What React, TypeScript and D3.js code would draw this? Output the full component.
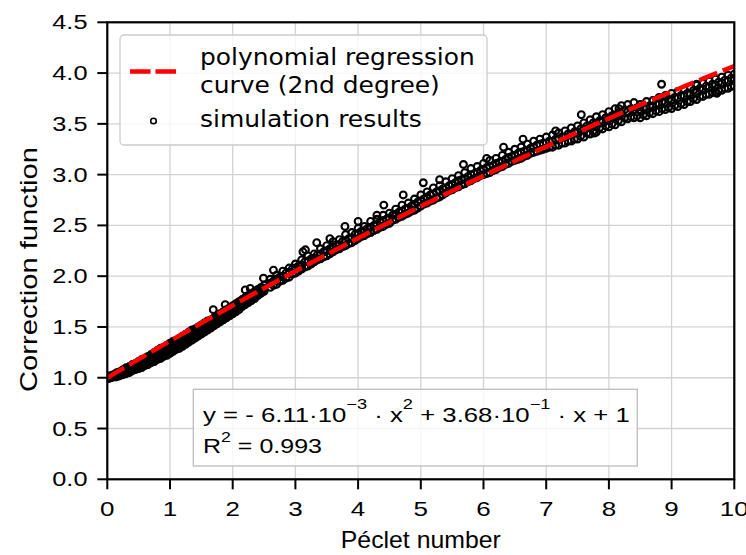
import React, { useEffect, useRef } from "react";
import * as d3 from "d3";

const WIDTH = 746;
const HEIGHT = 555;

// Axis ticks
const xTicks = [0, 1, 2, 3, 4, 5, 6, 7, 8, 9, 10];
const yTicks = [0, 0.5, 1, 1.5, 2, 2.5, 3, 3.5, 4, 4.5];
const yTickLabels = ["0.0", "0.5", "1.0", "1.5", "2.0", "2.5", "3.0", "3.5", "4.0", "4.5"];

// Regression coefficients: y = a·x² + b·x + c
const regressionCoefficients = [-6.11e-3, 3.68e-1, 1];

// Simulation results, low Péclet range: [Pe, y, y, ...]
const lowPecletRows = [
  [0.0, 0.99, 1.0, 1.0], [0.05, 1.0, 1.01, 1.02], [0.1, 1.01, 1.02, 1.03],
  [0.15, 1.01, 1.03, 1.05], [0.2, 1.02, 1.04, 1.06], [0.25, 1.03, 1.06, 1.08],
  [0.3, 1.04, 1.07, 1.1], [0.35, 1.05, 1.08, 1.11], [0.4, 1.07, 1.1, 1.13],
  [0.45, 1.08, 1.11, 1.14], [0.5, 1.09, 1.12, 1.16], [0.55, 1.1, 1.14, 1.18],
  [0.6, 1.12, 1.16, 1.19], [0.65, 1.13, 1.17, 1.21], [0.7, 1.15, 1.19, 1.23],
  [0.75, 1.16, 1.21, 1.25], [0.8, 1.18, 1.22, 1.27], [0.85, 1.19, 1.24, 1.29],
  [0.9, 1.21, 1.26, 1.3], [0.95, 1.22, 1.27, 1.32], [1.0, 1.24, 1.29, 1.34],
  [1.05, 1.26, 1.31, 1.36], [1.1, 1.28, 1.33, 1.37], [1.15, 1.29, 1.34, 1.39],
  [1.2, 1.31, 1.36, 1.41], [1.25, 1.33, 1.38, 1.43], [1.3, 1.35, 1.4, 1.45],
  [1.35, 1.37, 1.42, 1.47], [1.4, 1.39, 1.44, 1.48], [1.45, 1.41, 1.46, 1.5],
  [1.5, 1.43, 1.47, 1.52], [1.55, 1.45, 1.49, 1.54], [1.6, 1.47, 1.51, 1.56],
  [1.65, 1.49, 1.53, 1.57], [1.7, 1.51, 1.55, 1.59], [1.75, 1.53, 1.57, 1.61],
  [1.8, 1.55, 1.59, 1.63], [1.85, 1.57, 1.61, 1.65], [1.9, 1.59, 1.63, 1.67],
  [1.95, 1.61, 1.65, 1.69], [2.0, 1.63, 1.67, 1.71], [2.05, 1.65, 1.69, 1.73],
  [2.1, 1.67, 1.71, 1.75], [2.15, 1.7, 1.73, 1.77], [2.2, 1.72, 1.75, 1.79],
  [2.25, 1.74, 1.78, 1.81], [2.3, 1.76, 1.8, 1.83], [2.35, 1.78, 1.82, 1.85],
  [2.4, 1.81, 1.84, 1.87], [2.45, 1.83, 1.86, 1.89], [2.5, 1.85, 1.88, 1.91],
  [0.025, 0.995, 1.01], [0.075, 1.005, 1.02], [0.125, 1.01, 1.035], [0.175, 1.02, 1.05],
  [0.225, 1.03, 1.06], [0.275, 1.04, 1.08], [0.325, 1.05, 1.09], [0.375, 1.065, 1.1],
  [0.425, 1.08, 1.12], [0.475, 1.09, 1.135], [0.525, 1.105, 1.15], [0.575, 1.12, 1.165],
  [0.625, 1.135, 1.18], [0.675, 1.15, 1.2], [0.725, 1.165, 1.215], [0.775, 1.18, 1.23],
  [0.825, 1.195, 1.25], [0.875, 1.21, 1.265], [0.925, 1.225, 1.28], [0.975, 1.245, 1.3],
  [1.025, 1.26, 1.32], [1.075, 1.28, 1.335], [1.125, 1.3, 1.355], [1.175, 1.32, 1.37],
  [1.225, 1.34, 1.39], [1.275, 1.36, 1.41], [1.325, 1.38, 1.43], [1.375, 1.4, 1.45],
  [1.425, 1.42, 1.47], [1.475, 1.44, 1.49], [1.525, 1.46, 1.51], [1.575, 1.48, 1.525],
  [1.625, 1.5, 1.545], [1.675, 1.52, 1.565], [1.725, 1.54, 1.585], [1.775, 1.56, 1.6],
  [1.825, 1.58, 1.62], [1.875, 1.6, 1.64], [1.925, 1.62, 1.66], [1.975, 1.64, 1.68],
  [2.025, 1.66, 1.7], [2.075, 1.68, 1.72], [2.125, 1.7, 1.74], [2.175, 1.72, 1.76],
  [2.225, 1.745, 1.78], [2.275, 1.765, 1.8], [2.325, 1.79, 1.82], [2.375, 1.81, 1.845],
  [2.425, 1.83, 1.865], [2.475, 1.855, 1.885],
];

// Simulation results, medium Péclet range
const midPecletRows = [
  [2.6, 1.89, 1.93, 1.97], [2.7, 1.92, 1.97, 2.01], [2.8, 1.96, 2.0, 2.05],
  [2.9, 1.99, 2.04, 2.08], [3.0, 2.03, 2.08, 2.12], [3.1, 2.07, 2.11, 2.16],
  [3.2, 2.1, 2.15, 2.2], [3.3, 2.14, 2.18, 2.22], [3.4, 2.17, 2.22, 2.27],
  [3.5, 2.2, 2.25, 2.3], [3.6, 2.24, 2.29, 2.34], [3.7, 2.27, 2.31, 2.36],
  [3.8, 2.3, 2.35, 2.41], [3.9, 2.33, 2.38, 2.43], [4.0, 2.37, 2.42, 2.47],
  [4.1, 2.4, 2.45, 2.49], [4.2, 2.43, 2.48, 2.54], [4.3, 2.46, 2.51, 2.56],
  [4.4, 2.49, 2.55, 2.6], [4.5, 2.52, 2.57, 2.62], [4.6, 2.56, 2.61, 2.66],
  [4.7, 2.59, 2.64, 2.7], [4.8, 2.62, 2.67, 2.72], [4.9, 2.65, 2.71, 2.76],
  [5.0, 2.69, 2.74, 2.8], [5.1, 2.72, 2.78, 2.83], [5.2, 2.75, 2.81, 2.87],
  [5.3, 2.78, 2.84, 2.89], [5.4, 2.82, 2.87, 2.93], [5.5, 2.85, 2.9, 2.96],
  [5.6, 2.88, 2.94, 2.99], [5.7, 2.91, 2.96, 3.02], [5.8, 2.94, 3.0, 3.06],
  [5.9, 2.97, 3.02, 3.08], [6.0, 3.0, 3.05, 3.11], [6.1, 3.02, 3.08, 3.14],
  [6.2, 3.05, 3.11, 3.16], [6.3, 3.08, 3.13, 3.19], [6.4, 3.11, 3.17, 3.22],
  [6.5, 3.14, 3.19, 3.25], [6.6, 3.16, 3.22, 3.27], [6.7, 3.19, 3.24, 3.3],
  [6.8, 3.22, 3.27, 3.33], [6.9, 3.24, 3.3, 3.35], [7.0, 3.26, 3.31, 3.37],
  [7.1, 3.27, 3.33, 3.39], [7.2, 3.29, 3.35, 3.41], [7.3, 3.31, 3.37, 3.43],
  [7.4, 3.33, 3.39, 3.46], [7.5, 3.35, 3.42, 3.48], [7.6, 3.37, 3.44, 3.51],
  [7.7, 3.4, 3.47, 3.54], [7.8, 3.42, 3.5, 3.57], [7.9, 3.45, 3.52, 3.59],
  [8.0, 3.47, 3.55, 3.62], [8.1, 3.49, 3.57, 3.65], [8.2, 3.52, 3.6, 3.68],
  [8.3, 3.55, 3.62, 3.69], [8.4, 3.56, 3.64, 3.71],
  [2.65, 1.91, 1.95], [2.75, 1.95, 1.99], [2.85, 1.98, 2.03], [2.95, 2.02, 2.07],
  [3.05, 2.05, 2.1], [3.15, 2.09, 2.14], [3.25, 2.12, 2.17], [3.35, 2.16, 2.21],
  [3.45, 2.19, 2.24], [3.55, 2.22, 2.27], [3.65, 2.26, 2.31], [3.75, 2.29, 2.34],
  [3.85, 2.32, 2.37], [3.95, 2.35, 2.41], [4.05, 2.39, 2.44], [4.15, 2.42, 2.47],
  [4.25, 2.45, 2.5], [4.35, 2.48, 2.53], [4.45, 2.51, 2.56], [4.55, 2.55, 2.6],
  [4.65, 2.58, 2.63], [4.75, 2.61, 2.66], [4.85, 2.64, 2.69], [4.95, 2.67, 2.73],
  [5.05, 2.71, 2.76], [5.15, 2.74, 2.8], [5.25, 2.77, 2.83], [5.35, 2.8, 2.86],
  [5.45, 2.84, 2.89], [5.55, 2.87, 2.92], [5.65, 2.9, 2.95], [5.75, 2.93, 2.98],
  [5.85, 2.96, 3.01], [5.95, 2.99, 3.04], [6.05, 3.01, 3.07], [6.15, 3.04, 3.09],
  [6.25, 3.07, 3.12], [6.35, 3.1, 3.15], [6.45, 3.13, 3.18], [6.55, 3.15, 3.21],
  [6.65, 3.18, 3.23], [6.75, 3.21, 3.26], [6.85, 3.23, 3.29], [6.95, 3.25, 3.31],
  [7.05, 3.27, 3.33], [7.15, 3.29, 3.35], [7.25, 3.31, 3.37], [7.35, 3.33, 3.4],
  [7.45, 3.35, 3.42], [7.55, 3.38, 3.45], [7.65, 3.41, 3.48], [7.75, 3.43, 3.51],
  [7.85, 3.46, 3.53], [7.95, 3.48, 3.56], [8.05, 3.5, 3.58], [8.15, 3.53, 3.61],
  [8.25, 3.56, 3.64], [8.35, 3.57, 3.65], [8.45, 3.58, 3.66],
];

// Simulation results, high Péclet range
const highPecletRows = [
  [8.5, 3.56, 3.63, 3.69], [8.6, 3.58, 3.65, 3.72], [8.7, 3.6, 3.67, 3.73],
  [8.8, 3.62, 3.69, 3.76], [8.9, 3.64, 3.71, 3.78], [9.0, 3.65, 3.73, 3.8],
  [9.1, 3.67, 3.75, 3.82], [9.2, 3.69, 3.77, 3.84], [9.3, 3.72, 3.79, 3.86],
  [9.4, 3.74, 3.81, 3.89], [9.5, 3.77, 3.84, 3.9], [9.6, 3.79, 3.86, 3.92],
  [9.7, 3.81, 3.88, 3.94], [9.8, 3.83, 3.9, 3.96], [9.9, 3.85, 3.92, 3.98],
  [10.0, 3.87, 3.93, 3.99],
  [8.55, 3.59, 3.66], [8.65, 3.61, 3.68], [8.75, 3.63, 3.7], [8.85, 3.65, 3.72],
  [8.95, 3.66, 3.74], [9.05, 3.68, 3.76], [9.15, 3.7, 3.78], [9.25, 3.72, 3.8],
  [9.35, 3.75, 3.83], [9.45, 3.77, 3.85], [9.55, 3.79, 3.87], [9.65, 3.81, 3.89],
  [9.75, 3.83, 3.91], [9.85, 3.85, 3.93], [9.95, 3.87, 3.95],
];

// Isolated simulation results away from the main band: [Pe, y]
const scatteredPoints = [
  [1.69, 1.67], [1.88, 1.72], [2.2, 1.865], [2.28, 1.88], [2.49, 1.98], [2.65, 2.06],
  [3.12, 2.24], [3.16, 2.26], [3.34, 2.33], [3.55, 2.37], [3.79, 2.49], [4.0, 2.54],
  [4.3, 2.6], [4.41, 2.7], [4.72, 2.8], [5.04, 2.92], [5.3, 2.95], [5.68, 3.1],
  [6.05, 3.16], [6.32, 3.27], [6.63, 3.35], [7.15, 3.43], [7.56, 3.59], [7.77, 3.41],
  [8.16, 3.65], [8.84, 3.89], [9.4, 3.88], [9.72, 3.8],
];

const legendLines = ["polynomial regression", "curve (2nd degree)", "simulation results"];
const xAxisTitle = "Péclet number";
const yAxisTitle = "Correction function";

const SANS = "'Liberation Sans', Arial, sans-serif";
const DEJAVU = "'DejaVu Sans', sans-serif";

export default function App() {
  const ref = useRef<SVGSVGElement>(null);

  useEffect(() => {
    const svg = d3.select(ref.current);
    svg.selectAll("*").remove();

    const x = d3.scaleLinear().domain([0, 10]).range([107.3, 734.3]);
    const y = d3.scaleLinear().domain([0, 4.5]).range([479.3, 22.3]);
    const [left, right] = x.range();
    const [bottom, top] = y.range();

    // stretch a text horizontally about an anchor so it spans a given width
    const fitWidth = (sel: any, anchorX: number, target: number) => {
      const w = sel.node().getBBox().width;
      const s = w > 0 ? target / w : 1;
      sel.attr("transform", `translate(${anchorX},0) scale(${s},1) translate(${-anchorX},0)`);
    };
    const scaleAbout = (sel: any, anchorX: number, s: number) => {
      sel.attr("transform", `translate(${anchorX},0) scale(${s},1) translate(${-anchorX},0)`);
    };

    svg.append("rect").attr("width", WIDTH).attr("height", HEIGHT).attr("fill", "#fff");

    svg.append("defs").append("clipPath").attr("id", "plot-clip")
      .append("rect").attr("x", left).attr("y", top)
      .attr("width", right - left).attr("height", bottom - top);

    // grid
    const grid = svg.append("g").attr("stroke", "#d2d2d2").attr("stroke-width", 1.3);
    xTicks.forEach((t) => {
      grid.append("line").attr("x1", x(t)).attr("x2", x(t)).attr("y1", top).attr("y2", bottom);
    });
    yTicks.forEach((t) => {
      grid.append("line").attr("x1", left).attr("x2", right).attr("y1", y(t)).attr("y2", y(t));
    });

    // simulation points
    const points: number[][] = [];
    [lowPecletRows, midPecletRows, highPecletRows].forEach((rows) =>
      rows.forEach(([pe, ...ys]) => ys.forEach((v) => points.push([pe, v])))
    );
    scatteredPoints.forEach((p) => points.push(p));

    const plot = svg.append("g").attr("clip-path", "url(#plot-clip)");
    plot.append("g").selectAll("circle").data(points).join("circle")
      .attr("cx", (d) => x(d[0])).attr("cy", (d) => y(d[1])).attr("r", 3.4)
      .attr("fill", "none").attr("stroke", "#000").attr("stroke-width", 2.1);

    // regression curve
    const [a, b, c] = regressionCoefficients;
    const curveX = d3.range(0, 10.0001, 0.05);
    const line = d3.line<number>().x((v) => x(v)).y((v) => y(a * v * v + b * v + c));
    plot.append("path").attr("d", line(curveX)).attr("fill", "none")
      .attr("stroke", "#ff0000").attr("stroke-width", 4.5).attr("stroke-dasharray", "19.5 6");

    // spines
    svg.append("rect").attr("x", left).attr("y", top)
      .attr("width", right - left).attr("height", bottom - top)
      .attr("fill", "none").attr("stroke", "#000").attr("stroke-width", 2.2);

    // ticks and tick labels
    const axes = svg.append("g");
    xTicks.forEach((t) => {
      axes.append("line").attr("x1", x(t)).attr("x2", x(t)).attr("y1", bottom).attr("y2", bottom + 10)
        .attr("stroke", "#000").attr("stroke-width", 2);
      const tx = axes.append("text").attr("x", x(t)).attr("y", 516.5).attr("text-anchor", "middle")
        .attr("font-family", SANS).attr("font-size", 20).attr("fill", "#000").text(String(t));
      scaleAbout(tx, x(t), 1.3);
    });
    yTicks.forEach((t, i) => {
      axes.append("line").attr("x1", left - 10).attr("x2", left).attr("y1", y(t)).attr("y2", y(t))
        .attr("stroke", "#000").attr("stroke-width", 2);
      const ty = axes.append("text").attr("x", 87.5).attr("y", y(t) + 7).attr("text-anchor", "end")
        .attr("font-family", SANS).attr("font-size", 19.5).attr("fill", "#000").text(yTickLabels[i]);
      scaleAbout(ty, 87.5, 1.3);
    });

    // axis titles
    const xt = svg.append("text").attr("x", 420.8).attr("y", 548.5).attr("text-anchor", "middle")
      .attr("font-family", SANS).attr("font-size", 24).attr("fill", "#000").text(xAxisTitle);
    fitWidth(xt, 420.8, 160);
    const yg = svg.append("g").attr("transform", "translate(37,269.5) rotate(-90)");
    const yt = yg.append("text").attr("x", 0).attr("y", 0).attr("text-anchor", "middle")
      .attr("font-family", SANS).attr("font-size", 24).attr("fill", "#000").text(yAxisTitle);
    fitWidth(yt, 0, 245);

    // legend
    const legend = svg.append("g");
    legend.append("rect").attr("x", 120).attr("y", 35).attr("width", 367).attr("height", 110)
      .attr("rx", 4).attr("fill", "#fff").attr("fill-opacity", 0.8)
      .attr("stroke", "#cccccc").attr("stroke-width", 1.3);
    legend.append("line").attr("x1", 130).attr("x2", 176).attr("y1", 71.5).attr("y2", 71.5)
      .attr("stroke", "#ff0000").attr("stroke-width", 4.5).attr("stroke-dasharray", "20.5 5");
    legend.append("circle").attr("cx", 153.5).attr("cy", 121).attr("r", 2.8)
      .attr("fill", "none").attr("stroke", "#000").attr("stroke-width", 1.6);
    const legendBaselines = [65, 92.7, 127.3];
    const legendWidths = [275, 240, 222];
    legendLines.forEach((s, i) => {
      const t = legend.append("text").attr("x", 200).attr("y", legendBaselines[i])
        .attr("font-family", DEJAVU).attr("font-size", 23).attr("fill", "#000").text(s);
      fitWidth(t, 200, legendWidths[i]);
    });

    // equation box
    const eq = svg.append("g");
    eq.append("rect").attr("x", 193.3).attr("y", 389.3).attr("width", 444).attr("height", 76.7)
      .attr("fill", "#fff").attr("fill-opacity", 0.8).attr("stroke", "#bdbdbd").attr("stroke-width", 1.3);

    const l1 = eq.append("text").attr("x", 203).attr("y", 421.7)
      .attr("font-family", SANS).attr("font-size", 20.5).attr("fill", "#000");
    const parts1: [string, boolean][] = [
      ["y = - 6.11·10", false], ["−3", true], [" · x", false], ["2", true],
      [" + 3.68·10", false], ["−1", true], [" · x + 1", false],
    ];
    let raised = false;
    parts1.forEach(([s, sup]) => {
      const ts = l1.append("tspan").text(s);
      if (sup && !raised) { ts.attr("dy", -13).attr("font-size", 14.5); raised = true; }
      else if (sup) { ts.attr("font-size", 14.5); }
      else if (raised) { ts.attr("dy", 13); raised = false; }
    });
    fitWidth(l1, 203, 427);

    const l2 = eq.append("text").attr("x", 203).attr("y", 453)
      .attr("font-family", SANS).attr("font-size", 20.5).attr("fill", "#000");
    l2.append("tspan").text("R");
    l2.append("tspan").text("2").attr("dy", -11).attr("font-size", 14.5);
    l2.append("tspan").text(" = 0.993").attr("dy", 11);
    fitWidth(l2, 203, 119);
  }, []);

  return (
    <svg
      ref={ref}
      width={WIDTH}
      height={HEIGHT}
      style={{ position: "absolute", left: 0, top: 0, display: "block" }}
    />
  );
}
